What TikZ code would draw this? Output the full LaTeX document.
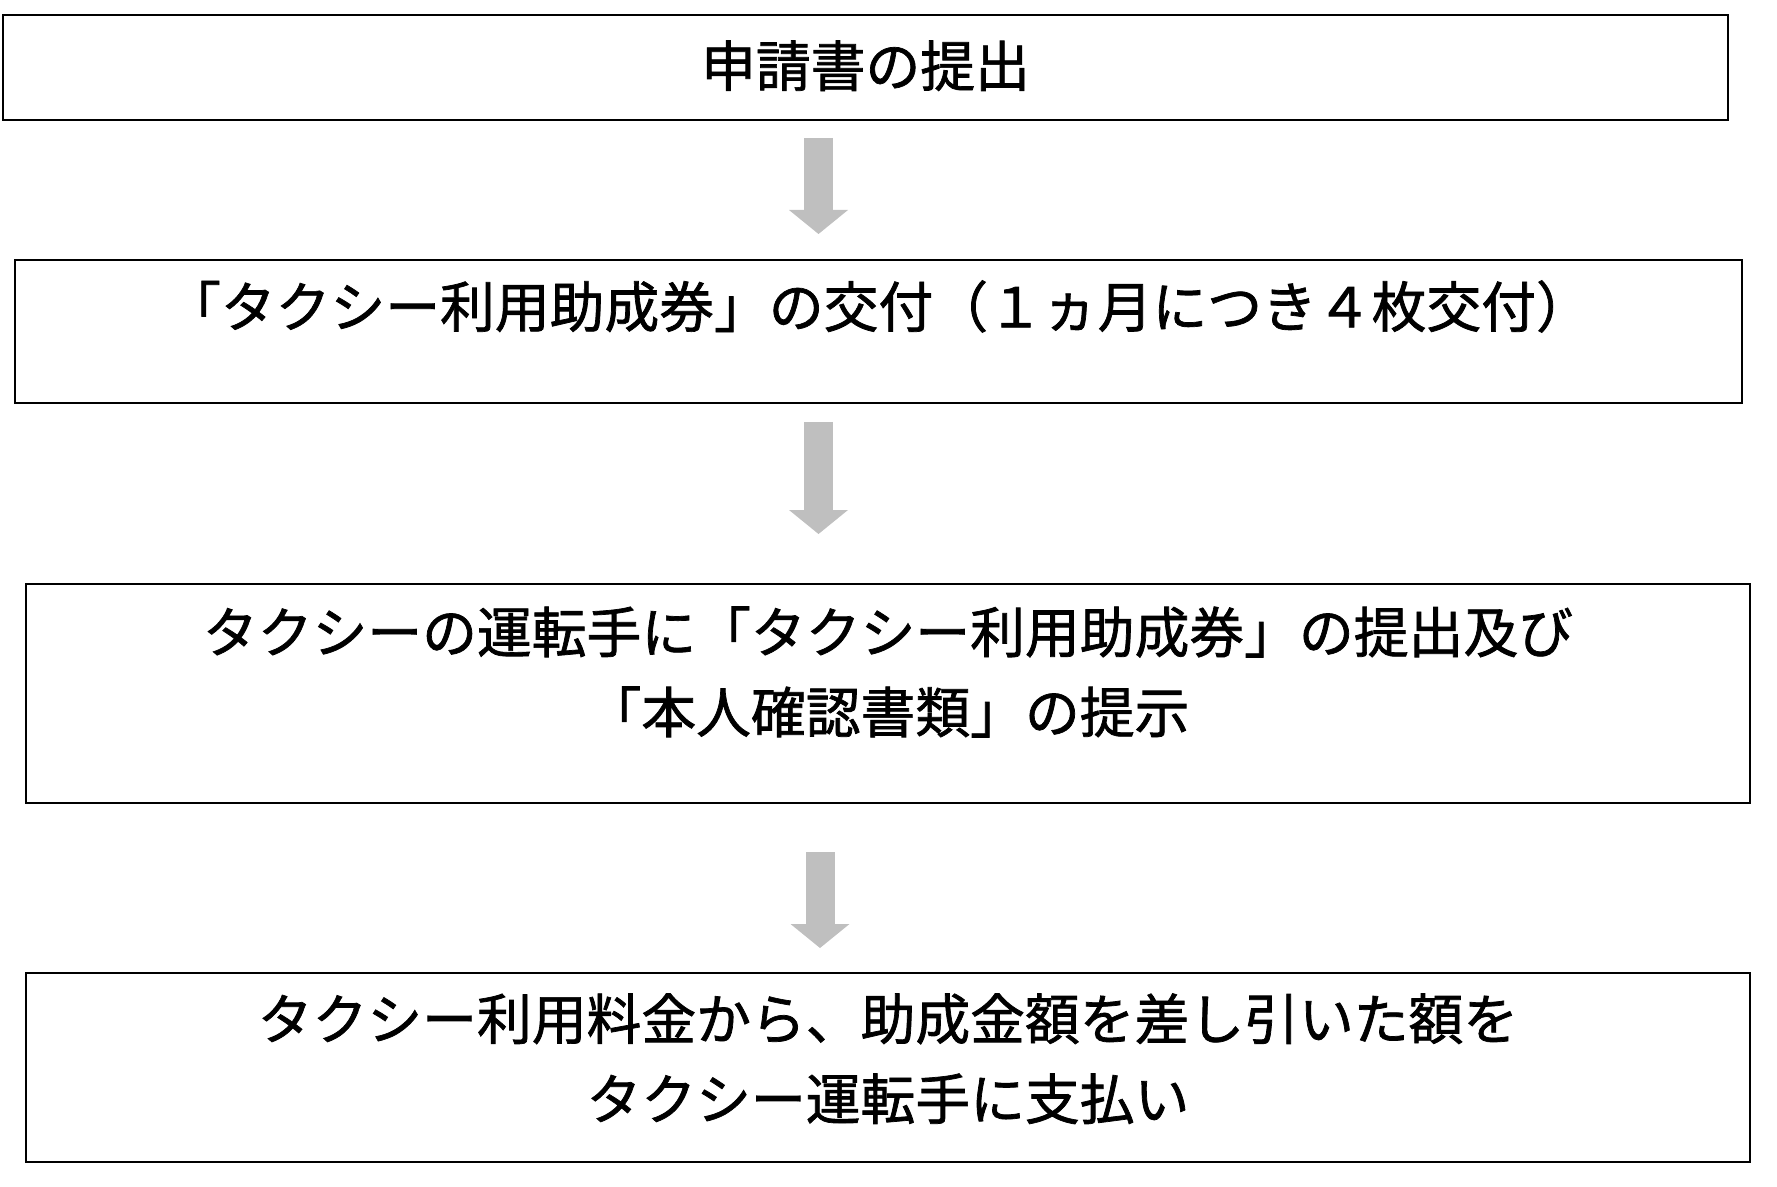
\documentclass[tikz,border=0pt]{standalone}
\usepackage{fontspec}
\newfontfamily\jpfont[FakeBold=1.3]{Noto Sans CJK JP}
\usetikzlibrary{arrows.meta,positioning}
\definecolor{arrowgray}{RGB}{191,191,191}

\begin{document}
\begin{tikzpicture}[x=0.5pt,y=-0.5pt,
  stepbox/.style={draw,line width=1.4pt,inner sep=0pt,outer sep=0pt},
  steptext/.style={inner sep=0pt,align=center,font=\jpfont\fontsize{27.4pt}{40pt}\selectfont},
  flowarrow/.style={arrowgray,line width=14.5pt,-{Triangle[width=29.5pt,length=12pt,line width=0pt]}}]
\useasboundingbox (0,0) rectangle (1777,1187);
% the four boxes
\node[stepbox,minimum width=862.5pt,minimum height=52.5pt] (s1) at (865.5,67.5) {};
\node[stepbox,minimum width=863.5pt,minimum height=71.5pt] (s2) at (878.5,331.5) {};
\node[stepbox,minimum width=862pt,minimum height=109.5pt] (s3) at (888,693.5) {};
\node[stepbox,minimum width=862pt,minimum height=94.5pt] (s4) at (888,1067.5) {};
% texts, hung from the top of each box
\node[steptext,below=12.5pt of s1.north] (t1) {申請書の提出};
\node[steptext,below=10pt of s2.north] (t2) {「タクシー利用助成券」の交付（１ヵ月につき４枚交付）};
\node[steptext,below=11pt of s3.north] (t3) {タクシーの運転手に「タクシー利用助成券」の提出及び\\「本人確認書類」の提示};
\node[steptext,below=10pt of s4.north] (t4) {タクシー利用料金から、助成金額を差し引いた額を\\タクシー運転手に支払い};
% grey arrows between the boxes
\coordinate (a1) at (818.5,138); \coordinate (b1) at (818.5,234);
\coordinate (a2) at (818.5,422); \coordinate (b2) at (818.5,534);
\coordinate (a3) at (820,852);   \coordinate (b3) at (820,948);
\foreach \i in {1,2,3}
\draw[flowarrow] (a\i) -- (b\i);
\end{tikzpicture}
\end{document}
